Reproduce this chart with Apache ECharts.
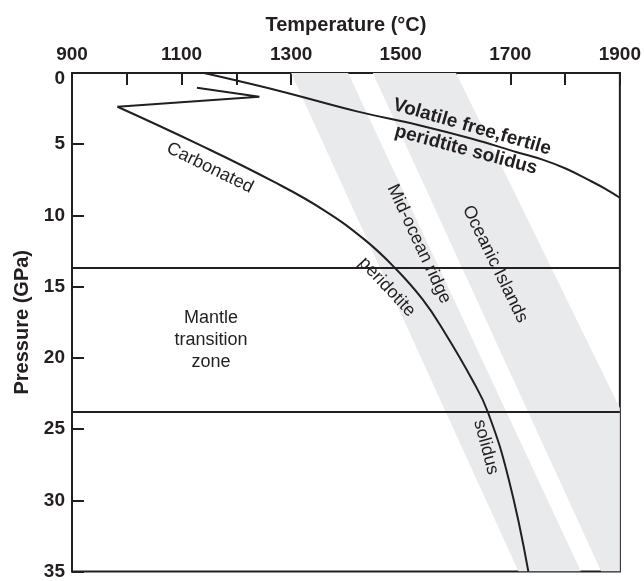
<!DOCTYPE html>
<html>
<head>
<meta charset="utf-8">
<script src="https://cdn.jsdelivr.net/npm/echarts@6/dist/echarts.min.js"></script>
<style>html,body{margin:0;padding:0;background:#fff}#c{width:644px;height:581px}</style>
</head>
<body>
<div id="c"></div>
<script>
// ---- data (temperature in °C, pressure in GPa) ----
const xTickLabels = [900, 1100, 1300, 1500, 1700, 1900];
const yTickLabels = [0, 5, 10, 15, 20, 25, 30, 35];
const volatileFreeSolidus = [[1141,0],[1277,1.24],[1422,2.71],[1530,3.63],[1630,4.62],[1712,5.56],[1760,6.1],[1802,6.72],[1840,7.45],[1872,8.1],[1900,8.76]];
const carbonatedSolidus = [[1128,1.03],[1242,1.66],[983,2.37],[1132,5.03],[1268,7.63],[1358,9.59],[1434,11.7],[1489,13.67],[1540,15.9],[1580,18.2],[1630,21.5],[1659,23.8],[1697,28.5],[1733,35]];
const midOceanRidgeBand = [[1300,0],[1404,0],[1829,35],[1715,35]];
const oceanicIslandsBand = [[1449,0],[1601,0],[2046,35],[1866,35]];
const transitionZoneBounds = [13.7, 23.8];

const INK = '#231f20';
const FONT = 'Arial, "Liberation Sans", Helvetica, sans-serif';
const X_MIN = 900, X_MAX = 1900, Y_MIN = 0, Y_MAX = 35;

function clipToXMax(poly, xmax) {
  const out = [];
  const n = poly.length;
  for (let i = 0; i < n; i++) {
    const cur = poly[i], prev = poly[(i + n - 1) % n];
    const curIn = cur[0] <= xmax, prevIn = prev[0] <= xmax;
    const cross = () => {
      const t = (xmax - prev[0]) / (cur[0] - prev[0]);
      return [xmax, prev[1] + t * (cur[1] - prev[1])];
    };
    if (curIn) { if (!prevIn) out.push(cross()); out.push(cur); }
    else if (prevIn) out.push(cross());
  }
  return out;
}

function bandSeries(name, poly) {
  const clipped = clipToXMax(poly, X_MAX);
  return {
    name: name, type: 'custom', clip: true, silent: true, z: 1,
    data: [clipped[0]],
    renderItem: function (params, api) {
      return {
        type: 'polygon',
        shape: { points: clipped.map(p => api.coord(p)) },
        style: { fill: '#e9eaec', stroke: null }
      };
    }
  };
}

const lineStyle = { color: INK, width: 2 };

const chart = echarts.init(document.getElementById('c'), null, { renderer: 'canvas' });
chart.setOption({
  animation: false,
  backgroundColor: '#ffffff',
  grid: { left: 72, right: 21, top: 73, bottom: 9, show: true, borderColor: INK, borderWidth: 2, backgroundColor: 'transparent' },
  xAxis: {
    type: 'value', position: 'top', min: X_MIN, max: X_MAX, interval: 100,
    name: 'Temperature (°C)', nameLocation: 'middle', nameGap: 38,
    nameTextStyle: { fontFamily: FONT, fontWeight: 'bold', fontSize: 20, color: INK },
    axisLine: { show: true, lineStyle: { color: INK, width: 2 } },
    axisTick: { show: true, inside: true, length: 12, lineStyle: { color: INK, width: 2 } },
    axisLabel: {
      margin: 9, fontFamily: FONT, fontWeight: 'bold', fontSize: 19, color: INK,
      formatter: v => xTickLabels.includes(v) ? String(v) : ''
    },
    splitLine: { show: false }
  },
  yAxis: {
    type: 'value', inverse: true, min: Y_MIN, max: Y_MAX, interval: 5,
    name: 'Pressure (GPa)', nameLocation: 'middle', nameGap: 40, nameRotate: 90,
    nameTextStyle: { fontFamily: FONT, fontWeight: 'bold', fontSize: 20, color: INK },
    axisLine: { show: true, lineStyle: { color: INK, width: 2 } },
    axisTick: { show: true, inside: true, length: 12, lineStyle: { color: INK, width: 2 } },
    axisLabel: {
      margin: 7, fontFamily: FONT, fontWeight: 'bold', fontSize: 19, color: INK,
      formatter: v => yTickLabels.includes(v) ? (v === 0 ? '{z|0}' : String(v)) : '',
      rich: { z: { fontFamily: FONT, fontWeight: 'bold', fontSize: 19, color: INK, padding: [12, 0, 0, 0] } }
    },
    splitLine: { show: false }
  },
  series: [
    bandSeries('Mid-ocean ridge', midOceanRidgeBand),
    bandSeries('Oceanic Islands', oceanicIslandsBand),
    {
      name: 'Volatile free, fertile peridotite solidus', type: 'line', z: 3,
      data: volatileFreeSolidus, smooth: 0.4, symbol: 'none', lineStyle: lineStyle
    },
    {
      name: 'Carbonated (kink)', type: 'line', z: 3,
      data: carbonatedSolidus.slice(0, 3), smooth: false, symbol: 'none', lineStyle: lineStyle
    },
    {
      name: 'Carbonated peridotite solidus', type: 'line', z: 3,
      data: carbonatedSolidus.slice(2), smooth: 0.45, symbol: 'none', lineStyle: lineStyle,
      markLine: {
        silent: true, symbol: 'none', label: { show: false },
        lineStyle: { color: INK, width: 2, type: 'solid' },
        data: transitionZoneBounds.map(v => ({ yAxis: v }))
      }
    }
  ],
  graphic: [
    { type: 'text', x: 472, y: 127, rotation: -16 * Math.PI / 180, z: 10,
      style: { text: 'Volatile free,fertile', font: 'bold 19px ' + FONT, fill: INK, align: 'center', verticalAlign: 'middle' } },
    { type: 'text', x: 466, y: 150, rotation: -15 * Math.PI / 180, z: 10,
      style: { text: 'peridtite solidus', font: 'bold 19px ' + FONT, fill: INK, align: 'center', verticalAlign: 'middle' } },
    { type: 'text', x: 210, y: 168, rotation: -26 * Math.PI / 180, z: 10,
      style: { text: 'Carbonated', font: '18px ' + FONT, fill: INK, align: 'center', verticalAlign: 'middle' } },
    { type: 'text', x: 419, y: 244, rotation: -65 * Math.PI / 180, z: 10,
      style: { text: 'Mid-ocean ridge', font: '18px ' + FONT, fill: INK, align: 'center', verticalAlign: 'middle' } },
    { type: 'text', x: 495, y: 264, rotation: -64 * Math.PI / 180, z: 10,
      style: { text: 'Oceanic Islands', font: '18px ' + FONT, fill: INK, align: 'center', verticalAlign: 'middle' } },
    { type: 'text', x: 387, y: 287, rotation: -47 * Math.PI / 180, z: 10,
      style: { text: 'peridotite', font: '18px ' + FONT, fill: INK, align: 'center', verticalAlign: 'middle' } },
    { type: 'text', x: 486, y: 447, rotation: -75 * Math.PI / 180, z: 10,
      style: { text: 'solidus', font: '18px ' + FONT, fill: INK, align: 'center', verticalAlign: 'middle' } },
    { type: 'text', x: 211, y: 340, z: 10,
      style: { text: 'Mantle\ntransition\nzone', font: '18px ' + FONT, lineHeight: 22, fill: INK, align: 'center', verticalAlign: 'middle' } }
  ]
});
</script>
</body>
</html>
